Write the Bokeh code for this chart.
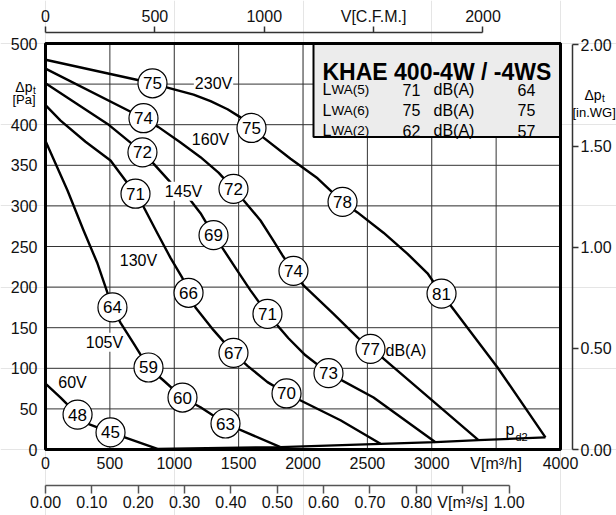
from bokeh.plotting import figure
from bokeh.models import Range1d, LinearAxis, FixedTicker, Label
from bokeh.embed import file_html
from bokeh.resources import INLINE
from bokeh.core.properties import value

FONT = "Liberation Sans"

# ---------------- data ----------------
flow_ticks = [0, 500, 1000, 1500, 2000, 2500, 3000, 3500, 4000]
flow_labels = ["0", "500", "1000", "1500", "2000", "2500", "3000", "V[m³/h]", "4000"]
pa_ticks = [0, 50, 100, 150, 200, 250, 300, 350, 400, 450, 500]
pa_labels = ["0", "50", "100", "150", "200", "250", "300", "350", "400", "", "500"]
cfm_ticks = [0, 500, 1000, 1500, 2000]
cfm_labels = ["0", "500", "1000", "V[C.F.M.]", "2000"]
m3s_ticks = [0.0, 0.1, 0.2, 0.3, 0.4, 0.5, 0.6, 0.7, 0.8, 0.9, 1.0]
m3s_labels = ["0.00", "0.10", "0.20", "0.30", "0.40", "0.50", "0.60", "0.70", "0.80", "V[m³/s]", "1.00"]
inwg_ticks = [0.0, 0.5, 1.0, 1.5, 2.0]
inwg_labels = ["0.00", "0.50", "1.00", "1.50", "2.00"]

# fan curves  (V in m3/h, dp in Pa)
v230 = [0, 831, 940, 1150, 1282, 1414, 1515, 1600, 1693, 1903, 2113, 2307, 2423, 2625, 2812, 2967, 3076, 3511, 3883]
p230 = [480, 451, 446, 437, 429, 419, 409, 396, 384, 358, 334, 305, 292, 267, 241, 217, 192, 101, 15]
v160 = [0, 761, 878, 1049, 1204, 1344, 1460, 1538, 1670, 1771, 1841, 1926, 2004, 2237, 2423, 2524, 2625, 3363]
p160 = [469, 408, 397, 378, 360, 341, 321, 307, 282, 257, 239, 220, 202, 167, 138, 124, 112, 11.5]
v145 = [0, 482, 753, 839, 971, 1126, 1204, 1305, 1375, 1491, 1592, 1724, 1887, 2019, 2198, 2548, 3029]
p145 = [451, 401, 366, 352, 329, 307, 291, 264, 248, 220, 196, 167, 137, 116, 94, 64, 9]
v130 = [0, 117, 311, 505, 637, 699, 738, 870, 971, 1064, 1111, 1165, 1305, 1460, 1569, 1724, 1872, 2291, 2602]
p130 = [424, 405, 379, 356, 328, 315, 306, 266, 236, 211, 193, 175, 147, 119, 103, 83, 69, 36, 7]
v105 = [0, 171, 295, 404, 520, 583, 683, 800, 917, 1064, 1204, 1398, 1825]
p105 = [380, 319, 270, 229, 175, 156, 131, 101, 85, 64, 52, 32, 3]
v60 = [0, 117, 249, 326, 505, 870]
p60 = [81, 64, 43, 32, 21, 0.7]
# dynamic pressure line p_d2
vpd = [0, 870, 1825, 2602, 3029, 3363, 3883]
ppd = [0, 0.7, 3, 7, 9, 11.5, 15]

# sound power points on curves (dB(A))
c_v = [831, 1600, 2307, 3076, 761, 1460, 1926, 2524, 753, 1305, 1724, 2198,
       699, 1111, 1460, 1872, 520, 800, 1064, 1398, 249, 505]
c_p = [451, 396, 305, 192, 408, 321, 220, 124, 366, 264, 167, 94,
       315, 193, 119, 69, 175, 101, 64, 32, 43, 21]
c_n = ["75", "75", "78", "81", "74", "72", "74", "77", "72", "69", "71", "73",
       "71", "66", "67", "70", "64", "59", "60", "63", "48", "45"]

# voltage labels
volt_text = ["230V", "160V", "145V", "130V", "105V", "60V"]
volt_v = [1305, 1282, 1072, 722, 458, 210]
volt_p = [451, 382, 318, 233, 132, 82]

# legend table
title_text = "KHAE 400-4W / -4WS"
lwa_idx = ["WA(5)", "WA(6)", "WA(2)"]
lwa_a = ["71", "75", "62"]
lwa_b = ["64", "75", "57"]

# ---------------- geometry ----------------
PX_X0, PX_Y0 = 45.0, 449.0
PX_PER_M3H = 515.0 / 4000
PX_PER_PA = 406.0 / 500
MARGIN = 0
W, H = 616, 515
CFM = 1.69901
PA_PER_INWG = 249.09


def fx(px):
    return (px - PX_X0) / PX_PER_M3H


def fy(py):
    return (PX_Y0 - py) / PX_PER_PA


xr = Range1d(fx(MARGIN), fx(MARGIN + W))
yr = Range1d(fy(MARGIN + H), fy(MARGIN))

p = figure(width=W, height=H, x_range=xr, y_range=yr,
           x_axis_location=None, y_axis_location=None,
           output_backend="svg", toolbar_location=None, min_border=0)
p.outline_line_color = None
p.background_fill_color = "white"
p.border_fill_color = "white"
p.extra_x_ranges = {"cfm": Range1d(xr.start / CFM, xr.end / CFM),
                    "m3s": Range1d(xr.start / 3600.0, xr.end / 3600.0)}
p.extra_y_ranges = {"inwg": Range1d(yr.start / PA_PER_INWG, yr.end / PA_PER_INWG)}


def base_axis(ax, size="16px"):
    ax.major_label_text_font = FONT
    ax.major_label_text_font_size = size
    ax.major_label_text_color = "#111111"
    ax.minor_tick_line_color = None
    ax.major_tick_in = 0


def lbl(x, y, text, size, align="left", baseline="alphabetic", **kw):
    p.add_layout(Label(x=x, y=y, text=text, text_align=align, text_baseline=baseline,
                       text_font=FONT, text_font_size=size, text_color="black", **kw))


# left Pa axis (labels only)
ax_l = LinearAxis(ticker=FixedTicker(ticks=pa_ticks), fixed_location=0,
                  major_label_overrides=dict(zip(pa_ticks, pa_labels)))
base_axis(ax_l)
ax_l.axis_line_color = None
ax_l.major_tick_line_color = None
ax_l.major_tick_out = 0
ax_l.major_label_standoff = 8
p.add_layout(ax_l, "left")

# bottom m3/h axis (labels only)
ax_b = LinearAxis(ticker=FixedTicker(ticks=flow_ticks), fixed_location=0,
                  major_label_overrides=dict(zip(flow_ticks, flow_labels)))
base_axis(ax_b)
ax_b.axis_line_color = None
ax_b.major_tick_line_color = None
ax_b.major_tick_out = 0
ax_b.major_label_standoff = 5
p.add_layout(ax_b, "below")

# bottom m3/s axis
ax_s = LinearAxis(x_range_name="m3s", ticker=FixedTicker(ticks=m3s_ticks),
                  fixed_location=fy(485), bounds=(0, 1.0),
                  major_label_overrides=dict(zip(m3s_ticks, m3s_labels)))
base_axis(ax_s)
ax_s.axis_line_color = "#555555"
ax_s.axis_line_width = 1.5
ax_s.major_tick_line_color = "#555555"
ax_s.major_tick_line_width = 1.5
ax_s.major_tick_out = 8
ax_s.major_label_standoff = 0
p.add_layout(ax_s, "below")

# top CFM axis
ax_t = LinearAxis(x_range_name="cfm", ticker=FixedTicker(ticks=cfm_ticks),
                  fixed_location=fy(32), bounds=(0, 2000),
                  major_label_overrides=dict(zip(cfm_ticks, cfm_labels)))
base_axis(ax_t)
ax_t.axis_line_color = "#333333"
ax_t.axis_line_width = 1.5
ax_t.major_tick_line_color = "#333333"
ax_t.major_tick_line_width = 1.5
ax_t.major_tick_out = 6
ax_t.major_label_standoff = 2
p.add_layout(ax_t, "above")

# right in.WG axis
ax_r = LinearAxis(y_range_name="inwg", ticker=FixedTicker(ticks=inwg_ticks),
                  fixed_location=fx(572), bounds=(0, 2.0),
                  major_label_overrides=dict(zip(inwg_ticks, inwg_labels)))
base_axis(ax_r)
ax_r.axis_line_color = "#333333"
ax_r.axis_line_width = 1.5
ax_r.major_tick_line_color = "#333333"
ax_r.major_tick_line_width = 1.5
ax_r.major_tick_out = 6
ax_r.major_label_standoff = 2
p.add_layout(ax_r, "right")

# grid inside the chart area
gx = flow_ticks[1:-1]
gy = pa_ticks[1:-1]
p.segment(x0=gx, y0=[pa_ticks[0]] * len(gx), x1=gx, y1=[pa_ticks[-1]] * len(gx),
          line_color="#333333", line_width=1)
p.segment(x0=[flow_ticks[0]] * len(gy), y0=gy, x1=[flow_ticks[-1]] * len(gy), y1=gy,
          line_color="#333333", line_width=1)

# legend box
p.quad(left=fx(313), right=flow_ticks[-1], bottom=fy(136.5), top=pa_ticks[-1],
       fill_color="#ececec", line_color="black", line_width=2)

# chart frame
p.quad(left=flow_ticks[0], right=flow_ticks[-1], bottom=pa_ticks[0], top=pa_ticks[-1],
       fill_color=None, line_color="black", line_width=3)

# curves
for vv, pp in [(v230, p230), (v160, p160), (v145, p145), (v130, p130), (v105, p105), (v60, p60)]:
    p.line(vv, pp, line_color="black", line_width=2.4, line_join="round")
p.line(vpd, ppd, line_color="black", line_width=2.2)

# sound level circles
p.scatter(c_v, c_p, marker="circle", size=29, fill_color="white",
          line_color="black", line_width=1.2)
p.text(c_v, c_p, text=c_n, text_align="center", text_baseline="middle",
       text_font=value(FONT), text_font_size="17px", text_color="black")

# voltage labels
for t, vv, pp in zip(volt_text, volt_v, volt_p):
    lbl(vv, pp, t, "16px", align="center", baseline="middle",
        background_fill_color="white", padding=1)

lbl(fx(385), fy(350), "dB(A)", "16px", baseline="middle")
lbl(fx(505), fy(429), "p", "16px")
lbl(fx(515), fy(436), "d2", "11px")

# axis titles
lbl(fx(32), fy(86), "Δp", "14px", align="right")
lbl(fx(32.5), fy(90), "t", "10px")
lbl(fx(35), fy(99), "[Pa]", "13px", align="right")
lbl(fx(584), fy(94), "Δp", "14px")
lbl(fx(601.5), fy(98), "t", "10px")
lbl(fx(572), fy(112), "[in.WG]", "13px")

# legend texts
lbl(fx(322), fy(71.5), title_text, "23px", text_font_style="bold")
for i, base in enumerate([89, 109.5, 130]):
    yy = fy(base)
    lbl(fx(322), yy, "L", "16px")
    lbl(fx(331), yy, lwa_idx[i], "13.5px")
    lbl(fx(402), yy, lwa_a[i], "16px")
    lbl(fx(433), yy, "dB(A)", "16px")
    lbl(fx(517), yy, lwa_b[i], "16px")

open("out.html", "w").write(file_html(p, INLINE))
